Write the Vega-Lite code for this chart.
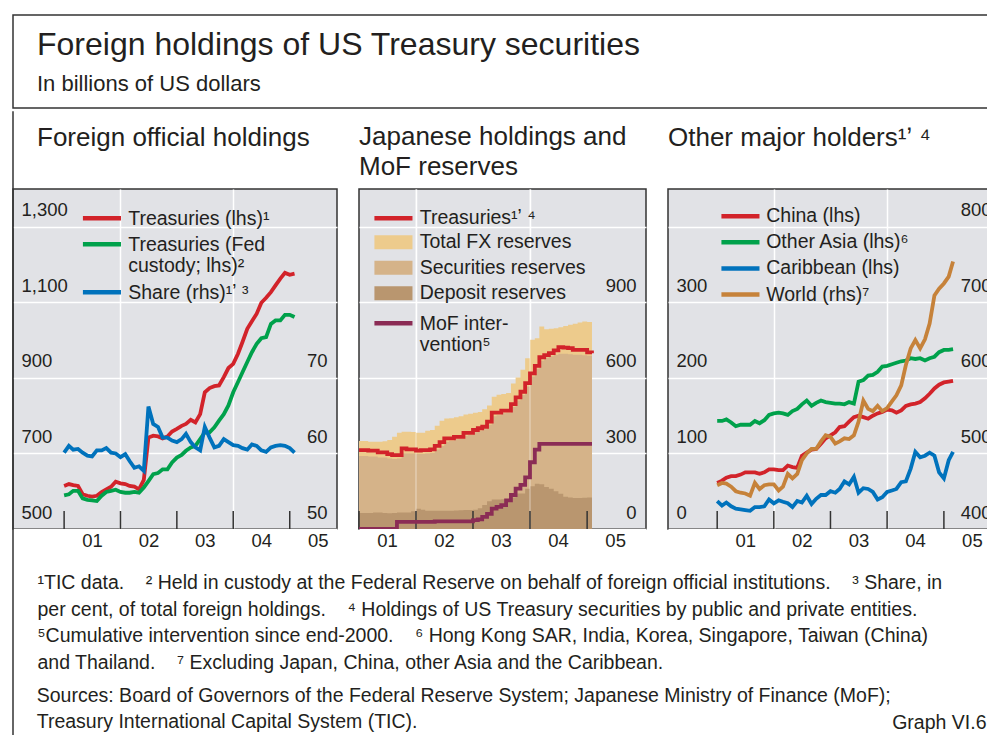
{
"$schema": "https://vega.github.io/schema/vega-lite/v6.json",
"padding": {"left": 11, "top": 14, "right": 0, "bottom": 0},
"background": "#ffffff",
"config": {
  "font": "Liberation Sans",
  "view": {"stroke": null},
  "axis": {"labelFont": "Liberation Sans", "labelFontSize": 18.5, "labelColor": "#231f20", "domain": false, "ticks": false, "gridColor": "#ffffff", "gridWidth": 1.5, "labelFlush": false, "labelOverlap": false, "labelBound": false, "titleFont": "Liberation Sans", "titleFontWeight": "normal", "titleColor": "#231f20", "titleFontSize": 19.5, "titleLimit": 3000, "titleLineHeight": 26.4},
  "legend": {"labelFont": "Liberation Sans", "labelFontSize": 19.5, "labelColor": "#231f20", "labelLimit": 400, "labelOffset": 16.5, "padding": 0, "rowPadding": 6, "symbolSize": 161, "labelBaseline": "top"},
  "title": {"font": "Liberation Sans", "fontWeight": "normal", "color": "#231f20", "anchor": "start", "frame": "group", "baseline": "top", "subtitleFont": "Liberation Sans", "subtitleColor": "#231f20"}
},
"datasets": {
  "years": [{"year": "2001-01-01"}, {"year": "2002-01-01"}, {"year": "2003-01-01"}, {"year": "2004-01-01"}, {"year": "2005-01-01"}],
  "p1": [
    {"date": "2001-01", "treasuries": 614, "fed": 589, "share": 60.1},
    {"date": "2001-02", "treasuries": 619, "fed": 592, "share": 61.0},
    {"date": "2001-03", "treasuries": 616, "fed": 601, "share": 60.5},
    {"date": "2001-04", "treasuries": 614, "fed": 601, "share": 60.6},
    {"date": "2001-05", "treasuries": 592, "fed": 581, "share": 60.1},
    {"date": "2001-06", "treasuries": 588, "fed": 577, "share": 59.7},
    {"date": "2001-07", "treasuries": 586, "fed": 576, "share": 59.6},
    {"date": "2001-08", "treasuries": 588, "fed": 574, "share": 60.4},
    {"date": "2001-09", "treasuries": 598, "fed": 588, "share": 60.4},
    {"date": "2001-10", "treasuries": 605, "fed": 598, "share": 60.7},
    {"date": "2001-11", "treasuries": 612, "fed": 601, "share": 60.1},
    {"date": "2001-12", "treasuries": 625, "fed": 604, "share": 60.0},
    {"date": "2002-01", "treasuries": 621, "fed": 598, "share": 59.5},
    {"date": "2002-02", "treasuries": 619, "fed": 596, "share": 59.9},
    {"date": "2002-03", "treasuries": 614, "fed": 596, "share": 59.0},
    {"date": "2002-04", "treasuries": 612, "fed": 598, "share": 58.1},
    {"date": "2002-05", "treasuries": 605, "fed": 596, "share": 58.3},
    {"date": "2002-06", "treasuries": 630, "fed": 610, "share": 57.7},
    {"date": "2002-07", "treasuries": 742, "fed": 627, "share": 66.2},
    {"date": "2002-08", "treasuries": 747, "fed": 645, "share": 63.9},
    {"date": "2002-09", "treasuries": 745, "fed": 648, "share": 63.5},
    {"date": "2002-10", "treasuries": 740, "fed": 658, "share": 62.1},
    {"date": "2002-11", "treasuries": 745, "fed": 658, "share": 62.1},
    {"date": "2002-12", "treasuries": 758, "fed": 676, "share": 61.7},
    {"date": "2003-01", "treasuries": 765, "fed": 689, "share": 61.5},
    {"date": "2003-02", "treasuries": 773, "fed": 696, "share": 61.9},
    {"date": "2003-03", "treasuries": 778, "fed": 707, "share": 62.6},
    {"date": "2003-04", "treasuries": 789, "fed": 716, "share": 61.5},
    {"date": "2003-05", "treasuries": 782, "fed": 720, "share": 60.8},
    {"date": "2003-06", "treasuries": 804, "fed": 738, "share": 60.4},
    {"date": "2003-07", "treasuries": 862, "fed": 756, "share": 63.5},
    {"date": "2003-08", "treasuries": 873, "fed": 756, "share": 62.1},
    {"date": "2003-09", "treasuries": 878, "fed": 769, "share": 60.8},
    {"date": "2003-10", "treasuries": 880, "fed": 787, "share": 61.0},
    {"date": "2003-11", "treasuries": 902, "fed": 804, "share": 61.9},
    {"date": "2003-12", "treasuries": 926, "fed": 827, "share": 61.5},
    {"date": "2004-01", "treasuries": 937, "fed": 862, "share": 61.1},
    {"date": "2004-02", "treasuries": 964, "fed": 889, "share": 61.0},
    {"date": "2004-03", "treasuries": 995, "fed": 915, "share": 60.7},
    {"date": "2004-04", "treasuries": 1030, "fed": 942, "share": 60.5},
    {"date": "2004-05", "treasuries": 1050, "fed": 968, "share": 61.2},
    {"date": "2004-06", "treasuries": 1070, "fed": 990, "share": 61.0},
    {"date": "2004-07", "treasuries": 1099, "fed": 1005, "share": 60.4},
    {"date": "2004-08", "treasuries": 1112, "fed": 1008, "share": 60.2},
    {"date": "2004-09", "treasuries": 1127, "fed": 1043, "share": 60.8},
    {"date": "2004-10", "treasuries": 1145, "fed": 1052, "share": 61.0},
    {"date": "2004-11", "treasuries": 1163, "fed": 1052, "share": 61.1},
    {"date": "2004-12", "treasuries": 1178, "fed": 1067, "share": 61.0},
    {"date": "2005-01", "treasuries": 1173, "fed": 1067, "share": 60.7},
    {"date": "2005-02", "treasuries": 1176, "fed": 1061, "share": 60.1}
  ],
  "p2": [
    {"date": "2001-01", "total": 349, "securities": 290, "deposits": 64, "treasuries": 313, "mof": 0},
    {"date": "2001-02", "total": 349, "securities": 290, "deposits": 64, "treasuries": 313, "mof": 0},
    {"date": "2001-03", "total": 346, "securities": 288, "deposits": 64, "treasuries": 311, "mof": 0},
    {"date": "2001-04", "total": 346, "securities": 288, "deposits": 66, "treasuries": 311, "mof": 0},
    {"date": "2001-05", "total": 346, "securities": 284, "deposits": 66, "treasuries": 304, "mof": 0},
    {"date": "2001-06", "total": 348, "securities": 284, "deposits": 64, "treasuries": 304, "mof": 0},
    {"date": "2001-07", "total": 353, "securities": 280, "deposits": 63, "treasuries": 297, "mof": 0},
    {"date": "2001-08", "total": 366, "securities": 278, "deposits": 64, "treasuries": 293, "mof": 0},
    {"date": "2001-09", "total": 382, "securities": 280, "deposits": 66, "treasuries": 293, "mof": 28},
    {"date": "2001-10", "total": 386, "securities": 300, "deposits": 66, "treasuries": 320, "mof": 28},
    {"date": "2001-11", "total": 386, "securities": 300, "deposits": 66, "treasuries": 316, "mof": 28},
    {"date": "2001-12", "total": 385, "securities": 300, "deposits": 70, "treasuries": 316, "mof": 28},
    {"date": "2002-01", "total": 382, "securities": 298, "deposits": 80, "treasuries": 311, "mof": 28},
    {"date": "2002-02", "total": 382, "securities": 298, "deposits": 76, "treasuries": 313, "mof": 28},
    {"date": "2002-03", "total": 390, "securities": 300, "deposits": 72, "treasuries": 313, "mof": 28},
    {"date": "2002-04", "total": 393, "securities": 302, "deposits": 72, "treasuries": 316, "mof": 28},
    {"date": "2002-05", "total": 410, "securities": 316, "deposits": 72, "treasuries": 330, "mof": 30},
    {"date": "2002-06", "total": 430, "securities": 330, "deposits": 72, "treasuries": 345, "mof": 30},
    {"date": "2002-07", "total": 439, "securities": 346, "deposits": 72, "treasuries": 360, "mof": 30},
    {"date": "2002-08", "total": 440, "securities": 350, "deposits": 72, "treasuries": 360, "mof": 30},
    {"date": "2002-09", "total": 444, "securities": 356, "deposits": 73, "treasuries": 366, "mof": 30},
    {"date": "2002-10", "total": 448, "securities": 358, "deposits": 74, "treasuries": 366, "mof": 30},
    {"date": "2002-11", "total": 455, "securities": 370, "deposits": 75, "treasuries": 382, "mof": 30},
    {"date": "2002-12", "total": 458, "securities": 374, "deposits": 75, "treasuries": 382, "mof": 30},
    {"date": "2003-01", "total": 462, "securities": 384, "deposits": 76, "treasuries": 393, "mof": 35},
    {"date": "2003-02", "total": 465, "securities": 390, "deposits": 82, "treasuries": 400, "mof": 38},
    {"date": "2003-03", "total": 475, "securities": 396, "deposits": 95, "treasuries": 406, "mof": 48},
    {"date": "2003-04", "total": 490, "securities": 414, "deposits": 110, "treasuries": 426, "mof": 60},
    {"date": "2003-05", "total": 525, "securities": 448, "deposits": 117, "treasuries": 462, "mof": 81},
    {"date": "2003-06", "total": 533, "securities": 452, "deposits": 117, "treasuries": 462, "mof": 88},
    {"date": "2003-07", "total": 536, "securities": 460, "deposits": 118, "treasuries": 470, "mof": 95},
    {"date": "2003-08", "total": 540, "securities": 462, "deposits": 118, "treasuries": 470, "mof": 114},
    {"date": "2003-09", "total": 578, "securities": 484, "deposits": 125, "treasuries": 496, "mof": 135},
    {"date": "2003-10", "total": 602, "securities": 510, "deposits": 141, "treasuries": 523, "mof": 160},
    {"date": "2003-11", "total": 632, "securities": 532, "deposits": 141, "treasuries": 545, "mof": 175},
    {"date": "2003-12", "total": 678, "securities": 566, "deposits": 160, "treasuries": 579, "mof": 205},
    {"date": "2004-01", "total": 751, "securities": 606, "deposits": 170, "treasuries": 618, "mof": 265},
    {"date": "2004-02", "total": 757, "securities": 636, "deposits": 180, "treasuries": 648, "mof": 315},
    {"date": "2004-03", "total": 804, "securities": 668, "deposits": 178, "treasuries": 682, "mof": 338},
    {"date": "2004-04", "total": 793, "securities": 680, "deposits": 167, "treasuries": 690, "mof": 338},
    {"date": "2004-05", "total": 795, "securities": 686, "deposits": 160, "treasuries": 698, "mof": 338},
    {"date": "2004-06", "total": 797, "securities": 692, "deposits": 150, "treasuries": 709, "mof": 338},
    {"date": "2004-07", "total": 801, "securities": 696, "deposits": 140, "treasuries": 722, "mof": 338},
    {"date": "2004-08", "total": 806, "securities": 696, "deposits": 128, "treasuries": 720, "mof": 338},
    {"date": "2004-09", "total": 811, "securities": 694, "deposits": 125, "treasuries": 718, "mof": 338},
    {"date": "2004-10", "total": 815, "securities": 692, "deposits": 123, "treasuries": 711, "mof": 338},
    {"date": "2004-11", "total": 820, "securities": 692, "deposits": 123, "treasuries": 711, "mof": 338},
    {"date": "2004-12", "total": 824, "securities": 690, "deposits": 124, "treasuries": 711, "mof": 338},
    {"date": "2005-01", "total": 822, "securities": 688, "deposits": 125, "treasuries": 701, "mof": 338},
    {"date": "2005-02", "total": 820, "securities": 686, "deposits": 123, "treasuries": 698, "mof": 338}
  ],
  "p3": [
    {"date": "2001-01", "china": 61, "otherAsia": 143, "caribbean": 37, "world": 458},
    {"date": "2001-02", "china": 64, "otherAsia": 143, "caribbean": 31, "world": 461},
    {"date": "2001-03", "china": 68, "otherAsia": 145, "caribbean": 35, "world": 460},
    {"date": "2001-04", "china": 70, "otherAsia": 141, "caribbean": 30, "world": 456},
    {"date": "2001-05", "china": 70, "otherAsia": 136, "caribbean": 27, "world": 450},
    {"date": "2001-06", "china": 72, "otherAsia": 138, "caribbean": 26, "world": 448},
    {"date": "2001-07", "china": 75, "otherAsia": 138, "caribbean": 25, "world": 447},
    {"date": "2001-08", "china": 75, "otherAsia": 138, "caribbean": 24, "world": 444},
    {"date": "2001-09", "china": 75, "otherAsia": 143, "caribbean": 29, "world": 461},
    {"date": "2001-10", "china": 73, "otherAsia": 140, "caribbean": 29, "world": 453},
    {"date": "2001-11", "china": 75, "otherAsia": 144, "caribbean": 30, "world": 458},
    {"date": "2001-12", "china": 79, "otherAsia": 151, "caribbean": 39, "world": 459},
    {"date": "2002-01", "china": 79, "otherAsia": 153, "caribbean": 34, "world": 459},
    {"date": "2002-02", "china": 78, "otherAsia": 154, "caribbean": 38, "world": 451},
    {"date": "2002-03", "china": 78, "otherAsia": 153, "caribbean": 36, "world": 456},
    {"date": "2002-04", "china": 84, "otherAsia": 151, "caribbean": 34, "world": 473},
    {"date": "2002-05", "china": 82, "otherAsia": 156, "caribbean": 29, "world": 467},
    {"date": "2002-06", "china": 81, "otherAsia": 159, "caribbean": 37, "world": 473},
    {"date": "2002-07", "china": 97, "otherAsia": 165, "caribbean": 35, "world": 491},
    {"date": "2002-08", "china": 101, "otherAsia": 170, "caribbean": 44, "world": 500},
    {"date": "2002-09", "china": 105, "otherAsia": 163, "caribbean": 33, "world": 506},
    {"date": "2002-10", "china": 106, "otherAsia": 167, "caribbean": 40, "world": 506},
    {"date": "2002-11", "china": 113, "otherAsia": 170, "caribbean": 45, "world": 516},
    {"date": "2002-12", "china": 120, "otherAsia": 168, "caribbean": 45, "world": 524},
    {"date": "2003-01", "china": 124, "otherAsia": 167, "caribbean": 50, "world": 522},
    {"date": "2003-02", "china": 128, "otherAsia": 166, "caribbean": 48, "world": 513},
    {"date": "2003-03", "china": 135, "otherAsia": 166, "caribbean": 53, "world": 516},
    {"date": "2003-04", "china": 136, "otherAsia": 165, "caribbean": 63, "world": 520},
    {"date": "2003-05", "china": 142, "otherAsia": 168, "caribbean": 59, "world": 519},
    {"date": "2003-06", "china": 148, "otherAsia": 166, "caribbean": 69, "world": 524},
    {"date": "2003-07", "china": 150, "otherAsia": 195, "caribbean": 48, "world": 542},
    {"date": "2003-08", "china": 148, "otherAsia": 197, "caribbean": 54, "world": 570},
    {"date": "2003-09", "china": 146, "otherAsia": 203, "caribbean": 53, "world": 559},
    {"date": "2003-10", "china": 150, "otherAsia": 204, "caribbean": 49, "world": 556},
    {"date": "2003-11", "china": 153, "otherAsia": 208, "caribbean": 39, "world": 563},
    {"date": "2003-12", "china": 155, "otherAsia": 215, "caribbean": 42, "world": 556},
    {"date": "2004-01", "china": 158, "otherAsia": 216, "caribbean": 49, "world": 560},
    {"date": "2004-02", "china": 157, "otherAsia": 218, "caribbean": 51, "world": 569},
    {"date": "2004-03", "china": 154, "otherAsia": 220, "caribbean": 53, "world": 577},
    {"date": "2004-04", "china": 157, "otherAsia": 222, "caribbean": 62, "world": 590},
    {"date": "2004-05", "china": 163, "otherAsia": 223, "caribbean": 63, "world": 617},
    {"date": "2004-06", "china": 165, "otherAsia": 226, "caribbean": 80, "world": 639},
    {"date": "2004-07", "china": 166, "otherAsia": 225, "caribbean": 102, "world": 650},
    {"date": "2004-08", "china": 168, "otherAsia": 226, "caribbean": 95, "world": 639},
    {"date": "2004-09", "china": 173, "otherAsia": 223, "caribbean": 97, "world": 651},
    {"date": "2004-10", "china": 179, "otherAsia": 226, "caribbean": 101, "world": 672},
    {"date": "2004-11", "china": 186, "otherAsia": 228, "caribbean": 97, "world": 709},
    {"date": "2004-12", "china": 191, "otherAsia": 234, "caribbean": 75, "world": 718},
    {"date": "2005-01", "china": 194, "otherAsia": 237, "caribbean": 67, "world": 725},
    {"date": "2005-02", "china": 195, "otherAsia": 237, "caribbean": 91, "world": 734},
    {"date": "2005-03", "china": 196, "otherAsia": 238, "caribbean": 102, "world": 754}
  ]
},
"spacing": 0,
"vconcat": [
  {
    "width": 988,
    "height": 93,
    "view": {"stroke": "#333333", "strokeWidth": 1.5},
    "title": {"text": "Foreign holdings of US Treasury securities", "subtitle": "In billions of US dollars", "fontSize": 32, "subtitleFontSize": 22, "subtitlePadding": 11.6, "offset": -80.5, "dx": 24},
    "data": {"values": [{}]},
    "mark": {"type": "point", "opacity": 0}
  },
  {
    "hconcat": [
      {
        "width": 324,
        "height": 340,
        "view": {"fill": "#e1e2e6", "stroke": "#333333", "strokeWidth": 1.5},
        "title": {"text": "Foreign official holdings", "fontSize": 26, "dx": 24, "offset": -40},
        "layer": [
          {
            "layer": [
              {
                "data": {"values": [{}]},
                "mark": {"type": "rule", "color": "#333333", "strokeWidth": 1.5, "clip": false},
                "encoding": {
                  "x": {"datum": {"year": 2000, "month": 2, "date": 5, "utc": true}, "type": "temporal", "scale": {"type": "utc", "domain": [{"year": 2000, "month": 2, "date": 5, "utc": true}, {"year": 2005, "month": 11, "date": 3, "utc": true}]}},
                  "y": {"datum": 1605.8, "type": "quantitative", "scale": {"domain": [500, 1400]}},
                  "y2": {"datum": -45.3}
                }
              },
              {
                "data": {"name": "years"},
                "mark": {"type": "rule", "color": "#333333", "strokeWidth": 1.5},
                "encoding": {
                  "x": {"field": "year", "type": "temporal", "scale": {"type": "utc", "domain": [{"year": 2000, "month": 2, "date": 5, "utc": true}, {"year": 2005, "month": 11, "date": 3, "utc": true}]}},
                  "y": {"datum": 500, "type": "quantitative", "scale": {"domain": [500, 1400]}},
                  "y2": {"datum": 547.6}
                }
              },
              {
                "data": {"name": "p1"},
                "mark": {"type": "line", "strokeWidth": 3.8},
                "encoding": {
                  "x": {"field": "date", "type": "temporal",
                    "scale": {"type": "utc", "domain": [{"year": 2000, "month": 2, "date": 5, "utc": true}, {"year": 2005, "month": 11, "date": 3, "utc": true}]},
                    "axis": {
                      "values": [{"year": 2001, "month": 1, "date": 1, "utc": true}, {"year": 2002, "month": 1, "date": 1, "utc": true}, {"year": 2003, "month": 1, "date": 1, "utc": true}, {"year": 2004, "month": 1, "date": 1, "utc": true}, {"year": 2005, "month": 1, "date": 1, "utc": true}],
                      "labelExpr": "utcFormat(datum.value, '%y')",
                      "labelOffset": 28, "labelPadding": 2,
                      "grid": true,
                      "gridOpacity": {"condition": {"test": "utcyear(datum.value) % 2 == 0", "value": 1}, "value": 0},
                      "title": ["¹TIC data.\u00a0\u00a0\u00a0\u00a0² Held in custody at the Federal Reserve on behalf of foreign official institutions.\u00a0\u00a0\u00a0\u00a0³ Share, in", "per cent, of total foreign holdings.\u00a0\u00a0\u00a0\u00a0⁴ Holdings of US Treasury securities by public and private entities.", "⁵Cumulative intervention since end-2000.\u00a0\u00a0\u00a0\u00a0⁶ Hong Kong SAR, India, Korea, Singapore, Taiwan (China)", "and Thailand.\u00a0\u00a0\u00a0\u00a0⁷ Excluding Japan, China, other Asia and the Caribbean."],
                      "titleX": 24, "titleY": 44.9, "titleAlign": "left", "titleAnchor": "start", "titleBaseline": "top"
                    }
                  },
                  "y": {"field": "treasuries", "type": "quantitative", "scale": {"domain": [500, 1400]},
                    "axis": {"orient": "left", "values": [500, 700, 900, 1100, 1300], "labelExpr": "format(datum.value, ',')", "labelAlign": "left", "labelPadding": -8, "labelBaseline": "alphabetic", "labelOffset": -11, "grid": true, "title": null}
                  },
                  "stroke": {"datum": "Treasuries (lhs)¹", "type": "nominal",
                    "scale": {"domain": ["Treasuries (lhs)¹", "Treasuries (Fed custody; lhs)²", "Share (rhs)¹ʼ ³"], "range": ["#d2232a", "#00a14b", "#0072bc"]},
                    "legend": {"orient": "none", "legendX": 79.2, "legendY": 19.6, "title": null, "symbolType": "M-3,0L3,0", "symbolStrokeWidth": 4.5,
                      "labelExpr": "indexof(datum.label, 'custody') >= 0 ? ['Treasuries (Fed', 'custody; lhs)²'] : datum.label",
                      "encode": {"labels": {"update": {"dy": {"value": -8.4}, "lineHeight": {"value": 21.3}}}}}
                  }
                }
              },
              {
                "data": {"name": "p1"},
                "mark": {"type": "line", "strokeWidth": 3.8},
                "encoding": {
                  "x": {"field": "date", "type": "temporal", "scale": {"type": "utc", "domain": [{"year": 2000, "month": 2, "date": 5, "utc": true}, {"year": 2005, "month": 11, "date": 3, "utc": true}]}},
                  "y": {"field": "fed", "type": "quantitative", "scale": {"domain": [500, 1400]}},
                  "stroke": {"datum": "Treasuries (Fed custody; lhs)²", "type": "nominal"}
                }
              }
            ]
          },
          {
            "data": {"name": "p1"},
            "mark": {"type": "line", "strokeWidth": 3.8},
            "encoding": {
              "x": {"field": "date", "type": "temporal", "scale": {"type": "utc", "domain": [{"year": 2000, "month": 2, "date": 5, "utc": true}, {"year": 2005, "month": 11, "date": 3, "utc": true}]}},
              "y": {"field": "share", "type": "quantitative", "scale": {"domain": [50, 95]},
                "axis": {"orient": "right", "values": [50, 60, 70], "labelAlign": "right", "labelPadding": -10, "labelBaseline": "alphabetic", "labelOffset": -11, "grid": false, "title": null}
              },
              "stroke": {"datum": "Share (rhs)¹ʼ ³", "type": "nominal"}
            }
          }
        ],
        "resolve": {"scale": {"y": "independent"}}
      },
      {
        "width": 287,
        "height": 340,
        "view": {"fill": "#e1e2e6", "stroke": "#333333", "strokeWidth": 1.5},
        "title": {"text": ["Japanese holdings and", "MoF reserves"], "fontSize": 26, "lineHeight": 30, "offset": 8.5},
        "layer": [
          {
            "data": {"name": "p2"},
            "mark": {"type": "area", "interpolate": "step-after", "opacity": 1},
            "encoding": {
              "x": {"field": "date", "type": "temporal",
                "scale": {"type": "utc", "domain": [{"year": 2001, "month": 1, "date": 1, "utc": true}, {"year": 2006, "month": 1, "date": 13, "utc": true}]},
                "axis": {
                  "values": [{"year": 2001, "month": 1, "date": 1, "utc": true}, {"year": 2002, "month": 1, "date": 1, "utc": true}, {"year": 2003, "month": 1, "date": 1, "utc": true}, {"year": 2004, "month": 1, "date": 1, "utc": true}, {"year": 2005, "month": 1, "date": 1, "utc": true}],
                  "labelExpr": "utcFormat(datum.value, '%y')",
                  "labelOffset": 28, "labelPadding": 2,
                  "grid": true,
                  "gridOpacity": {"condition": {"test": "utcyear(datum.value) % 2 == 0", "value": 1}, "value": 0},
                  "title": ["Sources: Board of Governors of the Federal Reserve System; Japanese Ministry of Finance (MoF);", "Treasury International Capital System (TIC)."],
                  "titleX": -322.75, "titleY": 157.6, "titleAlign": "left", "titleAnchor": "start", "titleBaseline": "top"
                }
              },
              "y": {"field": "total", "type": "quantitative", "stack": null, "scale": {"domain": [0, 1350]},
                "axis": {"orient": "right", "values": [0, 300, 600, 900, 1200], "labelExpr": "datum.value >= 1200 ? '' : format(datum.value, ',')", "labelAlign": "right", "labelPadding": -10, "labelBaseline": "alphabetic", "labelOffset": -11, "grid": true, "title": null}
              },
              "fill": {"datum": "Total FX reserves", "type": "nominal",
                "scale": {"domain": ["Total FX reserves", "Securities reserves", "Deposit reserves"], "range": ["#edcb8c", "#d5b389", "#b9966f"]},
                "legend": {"orient": "none", "legendX": 24.7, "legendY": 43.5, "rowPadding": 4.5, "title": null, "symbolType": "M-3,-1.1L3,-1.1L3,1.1L-3,1.1Z", "symbolStrokeWidth": 0, "labelBaseline": "middle",
                  "encode": {"symbols": {"update": {"strokeWidth": {"value": 0}}}}}
              }
            }
          },
          {
            "data": {"name": "p2"},
            "mark": {"type": "area", "interpolate": "step-after", "opacity": 1},
            "encoding": {
              "x": {"field": "date", "type": "temporal", "scale": {"type": "utc", "domain": [{"year": 2001, "month": 1, "date": 1, "utc": true}, {"year": 2006, "month": 1, "date": 13, "utc": true}]}},
              "y": {"field": "securities", "type": "quantitative", "stack": null, "scale": {"domain": [0, 1350]}},
              "fill": {"datum": "Securities reserves", "type": "nominal"}
            }
          },
          {
            "data": {"name": "p2"},
            "mark": {"type": "area", "interpolate": "step-after", "opacity": 1},
            "encoding": {
              "x": {"field": "date", "type": "temporal", "scale": {"type": "utc", "domain": [{"year": 2001, "month": 1, "date": 1, "utc": true}, {"year": 2006, "month": 1, "date": 13, "utc": true}]}},
              "y": {"field": "deposits", "type": "quantitative", "stack": null, "scale": {"domain": [0, 1350]}},
              "fill": {"datum": "Deposit reserves", "type": "nominal"}
            }
          },
          {
            "data": {"name": "years"},
            "transform": [{"filter": "utcyear(datum.year) % 2 == 0"}],
            "mark": {"type": "rule", "color": "#ffffff", "strokeWidth": 1.5, "opacity": 0.35},
            "encoding": {
              "x": {"field": "year", "type": "temporal", "scale": {"type": "utc", "domain": [{"year": 2001, "month": 1, "date": 1, "utc": true}, {"year": 2006, "month": 1, "date": 13, "utc": true}]}}
            }
          },
          {
            "mark": {"type": "rule", "color": "#ffffff", "strokeWidth": 1.5, "opacity": 0.35},
            "encoding": {"y": {"datum": 300, "type": "quantitative", "scale": {"domain": [0, 1350]}}}
          },
          {
            "mark": {"type": "rule", "color": "#ffffff", "strokeWidth": 1.5, "opacity": 0.35},
            "encoding": {"y": {"datum": 600, "type": "quantitative", "scale": {"domain": [0, 1350]}}}
          },
          {
            "data": {"name": "years"},
            "mark": {"type": "rule", "color": "#333333", "strokeWidth": 1.5},
            "encoding": {
              "x": {"field": "year", "type": "temporal", "scale": {"type": "utc", "domain": [{"year": 2001, "month": 1, "date": 1, "utc": true}, {"year": 2006, "month": 1, "date": 13, "utc": true}]}},
              "y": {"datum": 0, "type": "quantitative", "scale": {"domain": [0, 1350]}},
              "y2": {"datum": 71.5}
            }
          },
          {
            "data": {"name": "p2"},
            "mark": {"type": "line", "interpolate": "step-after", "strokeWidth": 3.8},
            "encoding": {
              "x": {"field": "date", "type": "temporal", "scale": {"type": "utc", "domain": [{"year": 2001, "month": 1, "date": 1, "utc": true}, {"year": 2006, "month": 1, "date": 13, "utc": true}]}},
              "y": {"field": "treasuries", "type": "quantitative", "scale": {"domain": [0, 1350]}},
              "stroke": {"datum": "Treasuries¹ʼ ⁴", "type": "nominal", "scale": {"range": ["#d2232a"]},
                "legend": {"orient": "none", "legendX": 24.7, "legendY": 19.5, "title": null, "symbolType": "M-3,0L3,0", "symbolStrokeWidth": 4.5, "labelBaseline": "middle"}
              }
            }
          },
          {
            "data": {"name": "p2"},
            "mark": {"type": "line", "interpolate": "step-after", "strokeWidth": 3.8, "stroke": "#8b2c55", "clip": true},
            "encoding": {
              "x": {"field": "date", "type": "temporal", "scale": {"type": "utc", "domain": [{"year": 2001, "month": 1, "date": 1, "utc": true}, {"year": 2006, "month": 1, "date": 13, "utc": true}]}},
              "y": {"field": "mof", "type": "quantitative", "scale": {"domain": [0, 1350]}},
              "strokeDash": {"datum": "MoF intervention⁵", "type": "nominal", "scale": {"range": [[1, 0]]},
                "legend": {"orient": "none", "legendX": 24.7, "legendY": 124.6, "title": null, "symbolType": "M-3,0L3,0", "symbolStrokeWidth": 4.5, "symbolStrokeColor": "#8b2c55",
                  "labelExpr": "['MoF inter-', 'vention⁵']",
                  "encode": {"labels": {"update": {"dy": {"value": -8.4}, "lineHeight": {"value": 21.3}}}}}
              }
            }
          }
        ]
      },
      {
        "width": 333,
        "height": 340,
        "view": {"fill": "#e1e2e6", "stroke": "#333333", "strokeWidth": 1.5},
        "title": {"text": "Other major holders¹ʼ ⁴", "fontSize": 26, "offset": 38.5},
        "layer": [
          {
            "layer": [
              {
                "data": {"name": "years"},
                "mark": {"type": "rule", "color": "#333333", "strokeWidth": 1.5},
                "encoding": {
                  "x": {"field": "year", "type": "temporal", "scale": {"type": "utc", "domain": [{"year": 2000, "month": 2, "date": 19, "utc": true}, {"year": 2006, "month": 1, "date": 4, "utc": true}]}},
                  "y": {"datum": 0, "type": "quantitative", "scale": {"domain": [0, 450]}},
                  "y2": {"datum": 23.8}
                }
              },
              {
                "data": {"name": "p3"},
                "mark": {"type": "line", "strokeWidth": 3.8},
                "encoding": {
                  "x": {"field": "date", "type": "temporal",
                    "scale": {"type": "utc", "domain": [{"year": 2000, "month": 2, "date": 19, "utc": true}, {"year": 2006, "month": 1, "date": 4, "utc": true}]},
                    "axis": {
                      "values": [{"year": 2001, "month": 1, "date": 1, "utc": true}, {"year": 2002, "month": 1, "date": 1, "utc": true}, {"year": 2003, "month": 1, "date": 1, "utc": true}, {"year": 2004, "month": 1, "date": 1, "utc": true}, {"year": 2005, "month": 1, "date": 1, "utc": true}],
                      "labelExpr": "utcFormat(datum.value, '%y')",
                      "labelOffset": 28, "labelPadding": 2,
                      "grid": true,
                      "gridOpacity": {"condition": {"test": "utcyear(datum.value) % 2 == 0", "value": 1}, "value": 0},
                      "title": "Graph VI.6",
                      "titleX": 318, "titleY": 184.6, "titleAlign": "right", "titleAnchor": "end", "titleBaseline": "top"
                    }
                  },
                  "y": {"field": "china", "type": "quantitative", "scale": {"domain": [0, 450]},
                    "axis": {"orient": "left", "values": [0, 100, 200, 300, 400], "labelExpr": "datum.value >= 400 ? '' : datum.label", "labelAlign": "left", "labelPadding": -8, "labelBaseline": "alphabetic", "labelOffset": -11, "grid": true, "title": null}
                  },
                  "stroke": {"datum": "China (lhs)", "type": "nominal",
                    "scale": {"domain": ["China (lhs)", "Other Asia (lhs)⁶", "Caribbean (lhs)", "World (rhs)⁷"], "range": ["#d2232a", "#00a14b", "#0072bc", "#c6823a"]},
                    "legend": {"orient": "none", "legendX": 62.7, "legendY": 17.5, "rowPadding": 5.1, "labelOffset": 16, "title": null, "symbolType": "M-3,0L3,0", "symbolStrokeWidth": 4.5, "labelBaseline": "middle"}
                  }
                }
              },
              {
                "data": {"name": "p3"},
                "mark": {"type": "line", "strokeWidth": 3.8},
                "encoding": {
                  "x": {"field": "date", "type": "temporal", "scale": {"type": "utc", "domain": [{"year": 2000, "month": 2, "date": 19, "utc": true}, {"year": 2006, "month": 1, "date": 4, "utc": true}]}},
                  "y": {"field": "otherAsia", "type": "quantitative", "scale": {"domain": [0, 450]}},
                  "stroke": {"datum": "Other Asia (lhs)⁶", "type": "nominal"}
                }
              },
              {
                "data": {"name": "p3"},
                "mark": {"type": "line", "strokeWidth": 3.8},
                "encoding": {
                  "x": {"field": "date", "type": "temporal", "scale": {"type": "utc", "domain": [{"year": 2000, "month": 2, "date": 19, "utc": true}, {"year": 2006, "month": 1, "date": 4, "utc": true}]}},
                  "y": {"field": "caribbean", "type": "quantitative", "scale": {"domain": [0, 450]}},
                  "stroke": {"datum": "Caribbean (lhs)", "type": "nominal"}
                }
              }
            ]
          },
          {
            "data": {"name": "p3"},
            "mark": {"type": "line", "strokeWidth": 3.8},
            "encoding": {
              "x": {"field": "date", "type": "temporal", "scale": {"type": "utc", "domain": [{"year": 2000, "month": 2, "date": 19, "utc": true}, {"year": 2006, "month": 1, "date": 4, "utc": true}]}},
              "y": {"field": "world", "type": "quantitative", "scale": {"domain": [400, 850]},
                "axis": {"orient": "right", "values": [400, 500, 600, 700, 800], "labelAlign": "right", "labelPadding": -10, "labelBaseline": "alphabetic", "labelOffset": -11, "grid": false, "title": null}
              },
              "stroke": {"datum": "World (rhs)⁷", "type": "nominal"}
            }
          }
        ],
        "resolve": {"scale": {"y": "independent"}}
      }
    ],
    "spacing": 22,
    "bounds": "flush",
    "resolve": {"scale": {"stroke": "independent", "fill": "independent", "strokeDash": "independent"}, "legend": {"stroke": "independent", "fill": "independent", "strokeDash": "independent"}}
  }
]
}
